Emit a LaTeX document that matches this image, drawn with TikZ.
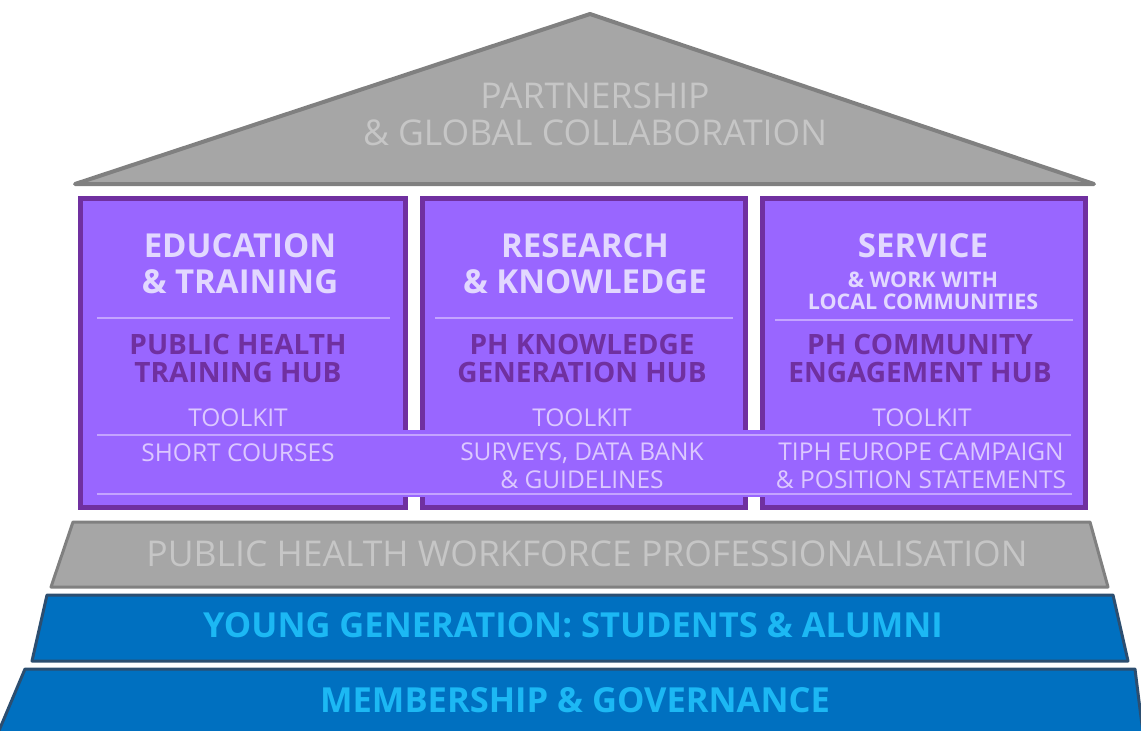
\documentclass[tikz,border=0pt]{standalone}
\usepackage{fontspec}
\setmainfont{Open Sans}
\usetikzlibrary{positioning}

\definecolor{roofgray}{HTML}{A6A6A6}
\definecolor{edgegray}{HTML}{808080}
\definecolor{rooftext}{HTML}{C6C6C6}
\definecolor{pillarfill}{HTML}{9966FF}
\definecolor{pillaredge}{HTML}{7030A0}
\definecolor{titletext}{HTML}{E2D8FF}
\definecolor{hubtext}{HTML}{7030A0}
\definecolor{tooltext}{HTML}{DCC8FF}
\definecolor{rulecol}{HTML}{C4A4FF}
\definecolor{basefill}{HTML}{0070C0}
\definecolor{baseedge}{HTML}{2C4E70}
\definecolor{basetext}{HTML}{1CB8F4}

\begin{document}
\begin{tikzpicture}[x=1pt,y=-1pt,
	txt/.style={inner sep=0pt, text depth=0pt, anchor=south, align=center},
	title/.style={txt, font=\fontsize{33}{36.5}\selectfont\bfseries, text=titletext},
	subtitle/.style={txt, font=\fontsize{21.5}{22.5}\selectfont\bfseries, text=titletext},
	hub/.style={txt, font=\fontsize{28}{28}\selectfont\bfseries, text=hubtext},
	tool/.style={txt, font=\fontsize{24.5}{28}\selectfont, text=tooltext},
	pillar/.style={fill=pillarfill, draw=pillaredge, line width=5pt},
	rule/.style={draw=rulecol, line width=1.3pt},
	layer/.style={line width=3pt, line join=round}]

	\useasboundingbox (0,0) rectangle (1141,731);

	% roof
	\draw[fill=roofgray, draw=edgegray, line width=4pt, line join=round]
		(75,184) -- (590,14) -- (1094,184) -- cycle;
	\node[txt, font=\fontsize{35.5}{37}\selectfont, text=rooftext] (roof) at (595,146)
		{PARTNERSHIP\\\& GLOBAL COLLABORATION};

	% pillars
	\foreach \xl/\xr [count=\i] in {80.5/405.5, 422.5/745.5, 762.5/1085.5} {{
		\draw[pillar] (\xl,198.5) rectangle (\xr,507.5);
	}}
	\fill[pillarfill] (83,430) rectangle (1083,497);

	\draw[rule] (97,318) -- (390,318);
	\draw[rule] (435,318) -- (733,318);
	\draw[rule] (775,320) -- (1073,320);
	\draw[rule] (97,435) -- (1071,435);
	\draw[rule] (97,494) -- (1072,494);

	% pillar texts
	\node[title] (edu) at (240,294) {EDUCATION\\\& TRAINING};
	\node[title] (res) at (585,294) {RESEARCH\\\& KNOWLEDGE};
	\node[title] (ser) at (923,258) {SERVICE};
	\node[subtitle] (serwork) at (923,310) {\& WORK WITH\\LOCAL COMMUNITIES};

	\node[hub] (eduhub) at (238,382.5) {PUBLIC HEALTH\\TRAINING HUB};
	\node[hub] (reshub) at (582,382.5) {PH KNOWLEDGE\\GENERATION HUB};
	\node[hub] (serhub) at (920,383) {PH COMMUNITY\\ENGAGEMENT HUB};

	\node[tool] (edutool) at (238,427) {TOOLKIT};
	\node[tool] (restool) at (582,427) {TOOLKIT};
	\node[tool] (sertool) at (922,427) {TOOLKIT};

	\node[tool] (educourse) at (238,462) {SHORT COURSES};
	\node[tool] (resdata) at (582,489) {SURVEYS, DATA BANK\\\& GUIDELINES};
	\node[tool] (sercamp) at (921,489) {TIPH EUROPE CAMPAIGN\\\& POSITION STATEMENTS};

	% foundation layers
	\draw[layer, fill=roofgray, draw=edgegray]
		(73,522) -- (1090,522) -- (1108,587) -- (51,587) -- cycle;
	\node[txt, font=\fontsize{35.5}{36}\selectfont, text=rooftext] (workforce) at (587,567)
		{PUBLIC HEALTH WORKFORCE PROFESSIONALISATION};

	\draw[layer, fill=basefill, draw=baseedge]
		(47,595) -- (1113,595) -- (1128,661) -- (32,661) -- cycle;
	\node[txt, font=\fontsize{34.5}{35}\selectfont\bfseries, text=basetext] (young) at (573,638)
		{YOUNG GENERATION: STUDENTS \& ALUMNI};

	\draw[layer, fill=basefill, draw=baseedge]
		(25,669) -- (1135,669) -- (1143,733) -- (-2,733) -- cycle;
	\node[txt, font=\fontsize{34.5}{35}\selectfont\bfseries, text=basetext] (member) at (575,713)
		{MEMBERSHIP \& GOVERNANCE};
\end{tikzpicture}
\end{document}
